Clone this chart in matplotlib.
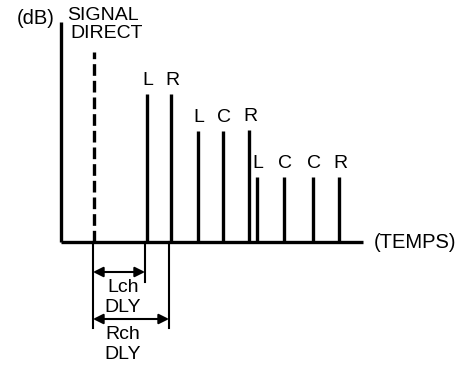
import matplotlib.pyplot as plt

# temps d'arrivee et niveaux des reflexions
canaux = ["L", "R", "L", "C", "R", "L", "C", "C", "R"]
temps = [86, 110, 137, 162, 188, 196, 223, 252, 278]
niveaux = [148, 148, 111, 111, 112, 65, 65, 65, 65]

# signal direct (pointille)
t_direct = 33
niv_direct = 190

# retards Lch / Rch mesures depuis le signal direct
retard_l = 52
retard_r = 76

plt.rcParams["font.family"] = ["Liberation Sans", "DejaVu Sans"]
fs = 14

fig = plt.figure(figsize=(4.66, 3.66), dpi=100)
ax = fig.add_axes([0, 0, 1, 1])
ax.set_xlim(-61, 405)
ax.set_ylim(-124, 242)
ax.axis("off")

# axes
ax.plot([0, 0], [0, 220], color="black", lw=2.4, solid_capstyle="butt")
ax.plot([0, 302], [0, 0], color="black", lw=2.4, solid_capstyle="butt")
ax.text(-6, 223, "(dB)", ha="right", va="center", fontsize=fs + 0.5)
ax.text(313, 0, "(TEMPS)", ha="left", va="center", fontsize=fs + 0.5)

# signal direct
ax.plot([t_direct, t_direct], [0, niv_direct], color="black", lw=2.4,
        dashes=(3.5, 1.5))
ax.text(6, 227, "SIGNAL", ha="left", va="center", fontsize=fs)
ax.text(9, 209, "DIRECT", ha="left", va="center", fontsize=fs)

# reflexions
ax.vlines(temps, 0, niveaux, color="black", lw=2.4)
for t, n, c in zip(temps, niveaux, canaux):
    ax.text(t + 1, n + 5, c, ha="center", va="bottom", fontsize=fs)

# cotes des retards
x0 = t_direct - 1
for retard, y_fleche, y_fin, etiquette in [
        (retard_l, -30, -40, "Lch\nDLY"),
        (retard_r, -77, -86, "Rch\nDLY")]:
    x1 = x0 + retard
    ax.plot([x1, x1], [0, y_fin], color="black", lw=1.5)
    ax.annotate("", xy=(x0, y_fleche), xytext=(x1, y_fleche),
                arrowprops=dict(arrowstyle="<|-|>", color="black", lw=1.5,
                                mutation_scale=15, shrinkA=0, shrinkB=0))
    ax.text(x0 + 30, y_fleche - 7, etiquette, ha="center",
            va="top", fontsize=fs, linespacing=1.2)
ax.plot([x0, x0], [0, -86], color="black", lw=1.5)

fig.savefig("out.png", dpi=100)
